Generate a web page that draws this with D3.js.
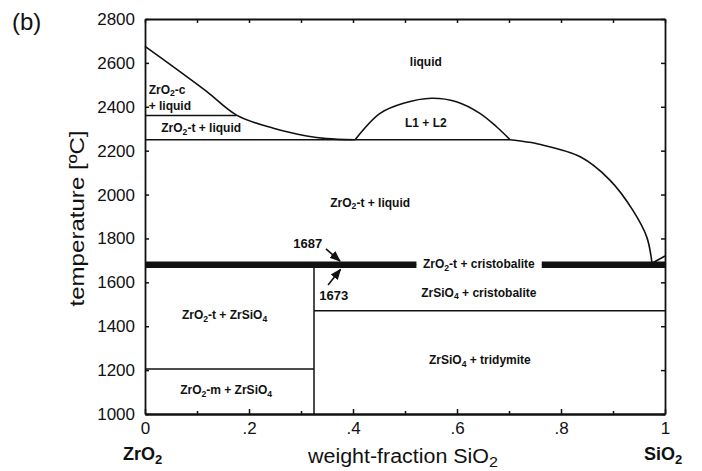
<!DOCTYPE html>
<html>
<head>
<meta charset="utf-8">
<script src="https://cdn.jsdelivr.net/npm/d3@7"></script>
<style>
  body { margin: 0; background: white; }
  svg { display: block; font-family: "Liberation Sans", Arial, sans-serif; }
  .tick text { font-size: 17px; fill: #111; }
  .region { font-weight: bold; font-size: 12px; fill: #111; }
</style>
</head>
<body>
<svg id="chart" width="702" height="471"></svg>
<script>
// phase diagram ZrO2 - SiO2
const xTicks = [0, 0.2, 0.4, 0.6, 0.8, 1]
const xMinorTicks = [0.1, 0.3, 0.5, 0.7, 0.9]
const yTicks = [1000, 1200, 1400, 1600, 1800, 2000, 2200, 2400, 2600, 2800]

// [weight fraction SiO2, temperature]
const liquidusLeft = [[0, 2675], [0.054, 2583], [0.119, 2469], [0.176, 2362], [0.247, 2302], [0.311, 2267], [0.349, 2255], [0.404, 2250]]
const miscibilityGap = [[0.404, 2250], [0.452, 2370], [0.497, 2416], [0.551, 2439], [0.599, 2423], [0.644, 2370], [0.676, 2309], [0.702, 2250]]
const liquidusRight = [[0.702, 2250], [0.74, 2238], [0.756, 2230], [0.837, 2172], [0.894, 2066], [0.938, 1929], [0.965, 1806], [0.975, 1687]]
const cristobaliteLiquidus = [[0.975, 1687], [1, 1720]]

// horizontal phase boundaries: temperature, from, to
const isotherms = [[2360, 0, 0.176], [2250, 0, 0.702], [1205, 0, 0.325], [1470, 0.325, 1]]
// the two close eutectic lines, broken by the label
const eutectics = [1687, 1673]
const eutecticGap = [0.522, 0.763]
const zirconLine = [0.325, 1000, 1673]

// "_" marks a subscript digit
const regionLabels = [
    ["liquid", 0.54, 2605, "middle"],
    ["ZrO_2-c", 0.007, 2478, "start"],
    ["+ liquid", 0.007, 2406, "start"],
    ["ZrO_2-t + liquid", 0.108, 2302, "middle"],
    ["L1 + L2", 0.54, 2325, "middle"],
    ["ZrO_2-t + liquid", 0.433, 1963, "middle"],
    ["ZrO_2-t + cristobalite", 0.642, 1683, "middle"],
    ["ZrSiO_4 + cristobalite", 0.642, 1553, "middle"],
    ["ZrO_2-t + ZrSiO_4", 0.153, 1451, "middle"],
    ["ZrSiO_4 + tridymite", 0.644, 1246, "middle"],
    ["ZrO_2-m + ZrSiO_4", 0.156, 1109, "middle"]
]
// text, text position, arrow from, arrow to
const callouts = [
    ["1687", [0.313, 1779], [0.348, 1752], [0.375, 1697]],
    ["1673", [0.363, 1542], [0.352, 1588], [0.376, 1659]]
]

var svg = d3.select("#chart")

let x = d3.scaleLinear().domain([0, 1]).range([145, 665])
let y = d3.scaleLinear().domain([1000, 2800]).range([414, 19])

svg.append("defs").append("marker")
    .attr("id", "head")
    .attr("viewBox", "0 0 10 10")
    .attr("refX", 9).attr("refY", 5)
    .attr("markerWidth", 7).attr("markerHeight", 7)
    .attr("orient", "auto")
    .append("path")
    .attr("d", "M0,1 L10,5 L0,9 Z")
    .attr("fill", "#111")

const fmtX = d => d == 0 ? "0" : d == 1 ? "1" : d3.format(".1f")(d).replace("0.", ".")

// axes, ticks pointing inwards
svg.append("g")
    .attr("transform", `translate(0,${y(1000)})`)
    .call(d3.axisBottom(x).tickValues(xTicks).tickSizeInner(-5).tickSizeOuter(0).tickPadding(8).tickFormat(fmtX))
svg.append("g")
    .attr("transform", `translate(0,${y(1000)})`)
    .call(d3.axisBottom(x).tickValues(xMinorTicks).tickSizeInner(-3).tickSizeOuter(0).tickFormat(""))
svg.append("g")
    .attr("transform", `translate(0,${y(2800)})`)
    .call(d3.axisTop(x).tickValues(xTicks.concat(xMinorTicks)).tickSizeInner(-4).tickSizeOuter(0).tickFormat(""))
svg.append("g")
    .attr("transform", `translate(${x(0)},0)`)
    .call(d3.axisLeft(y).tickValues(yTicks).tickSizeInner(-4).tickSizeOuter(0).tickPadding(10).tickFormat(d3.format("d")))
svg.append("g")
    .attr("transform", `translate(${x(1)},0)`)
    .call(d3.axisRight(y).tickValues(yTicks).tickSizeInner(-4).tickSizeOuter(0).tickFormat(""))

svg.selectAll(".domain").attr("stroke", "#111").attr("stroke-width", 1.8)
svg.selectAll(".tick line").attr("stroke", "#111").attr("stroke-width", 1.5)
svg.selectAll(".tick text").attr("fill", "#111")

// phase boundaries
let curve = d3.line()
    .x(d => x(d[0]))
    .y(d => y(d[1]))
    .curve(d3.curveCatmullRom)

svg.selectAll(".boundary")
    .data([liquidusLeft, miscibilityGap, liquidusRight, cristobaliteLiquidus])
    .enter()
    .append("path")
    .classed("boundary", true)
    .attr("d", curve)
    .attr("fill", "none")
    .attr("stroke", "#111")
    .attr("stroke-width", 1.6)

svg.selectAll(".isotherm")
    .data(isotherms)
    .enter()
    .append("line")
    .classed("isotherm", true)
    .attr("x1", d => x(d[1]))
    .attr("x2", d => x(d[2]))
    .attr("y1", d => y(d[0]))
    .attr("y2", d => y(d[0]))
    .attr("stroke", "#111")
    .attr("stroke-width", 1.5)

// both eutectic lines sit 3px apart, drawn as one heavy band
eutectics.forEach(t => {
    [[0, eutecticGap[0]], [eutecticGap[1], 1]].forEach(seg => {
        svg.append("line")
            .attr("x1", x(seg[0]))
            .attr("x2", x(seg[1]))
            .attr("y1", y(t))
            .attr("y2", y(t))
            .attr("stroke", "#111")
            .attr("stroke-width", 3.4)
    })
})

svg.append("line")
    .attr("x1", x(zirconLine[0]))
    .attr("x2", x(zirconLine[0]))
    .attr("y1", y(zirconLine[1]))
    .attr("y2", y(zirconLine[2]))
    .attr("stroke", "#111")
    .attr("stroke-width", 1.5)

// labels with subscripts
function addRich(sel, str) {
    let parts = str.split(/(_\d)/).filter(s => s.length)
    let shift = 0
    parts.forEach(part => {
        if (part[0] == "_") {
            sel.append("tspan").attr("dy", "0.3em").attr("font-size", "0.72em").text(part[1])
            shift = 1
        } else {
            let ts = sel.append("tspan").text(part)
            if (shift) ts.attr("dy", "-0.216em")
            shift = 0
        }
    })
}

regionLabels.forEach(d => {
    let t = svg.append("text")
        .classed("region", true)
        .attr("x", x(d[1]))
        .attr("y", y(d[2]))
        .attr("dy", "0.35em")
        .attr("text-anchor", d[3])
    addRich(t, d[0])
})

callouts.forEach(d => {
    svg.append("text")
        .attr("x", x(d[1][0]))
        .attr("y", y(d[1][1]))
        .attr("dy", "0.35em")
        .attr("text-anchor", "middle")
        .attr("font-size", 13)
        .attr("font-weight", "bold")
        .attr("fill", "#111")
        .text(d[0])
    svg.append("line")
        .attr("x1", x(d[2][0]))
        .attr("y1", y(d[2][1]))
        .attr("x2", x(d[3][0]))
        .attr("y2", y(d[3][1]))
        .attr("stroke", "#111")
        .attr("stroke-width", 1.6)
        .attr("marker-end", "url(#head)")
})

// titles
svg.append("text")
    .attr("x", 12)
    .attr("y", 30)
    .attr("font-size", 24)
    .attr("fill", "#111")
    .text("(b)")

let xt = svg.append("text")
    .attr("x", 308)
    .attr("y", 463)
    .attr("font-size", 20)
    .attr("fill", "#111")
    .attr("textLength", 190)
    .attr("lengthAdjust", "spacingAndGlyphs")
xt.append("tspan").text("weight-fraction SiO")
xt.append("tspan").attr("dy", 4).attr("font-size", 15).text("2")

svg.append("text")
    .attr("transform", `translate(84,${y(1900) + 2}) rotate(-90)`)
    .attr("text-anchor", "middle")
    .attr("font-size", 20)
    .attr("fill", "#111")
    .attr("textLength", 176)
    .attr("lengthAdjust", "spacingAndGlyphs")
    .text("temperature [\u00baC]")

let zr = svg.append("text")
    .attr("x", 123)
    .attr("y", 460)
    .attr("font-size", 18)
    .attr("font-weight", "bold")
    .attr("fill", "#111")
zr.append("tspan").text("ZrO")
zr.append("tspan").attr("dy", 4).attr("font-size", 13).text("2")

let si = svg.append("text")
    .attr("x", 644)
    .attr("y", 460)
    .attr("font-size", 18)
    .attr("font-weight", "bold")
    .attr("fill", "#111")
si.append("tspan").text("SiO")
si.append("tspan").attr("dy", 4).attr("font-size", 13).text("2")
</script>
</body>
</html>
